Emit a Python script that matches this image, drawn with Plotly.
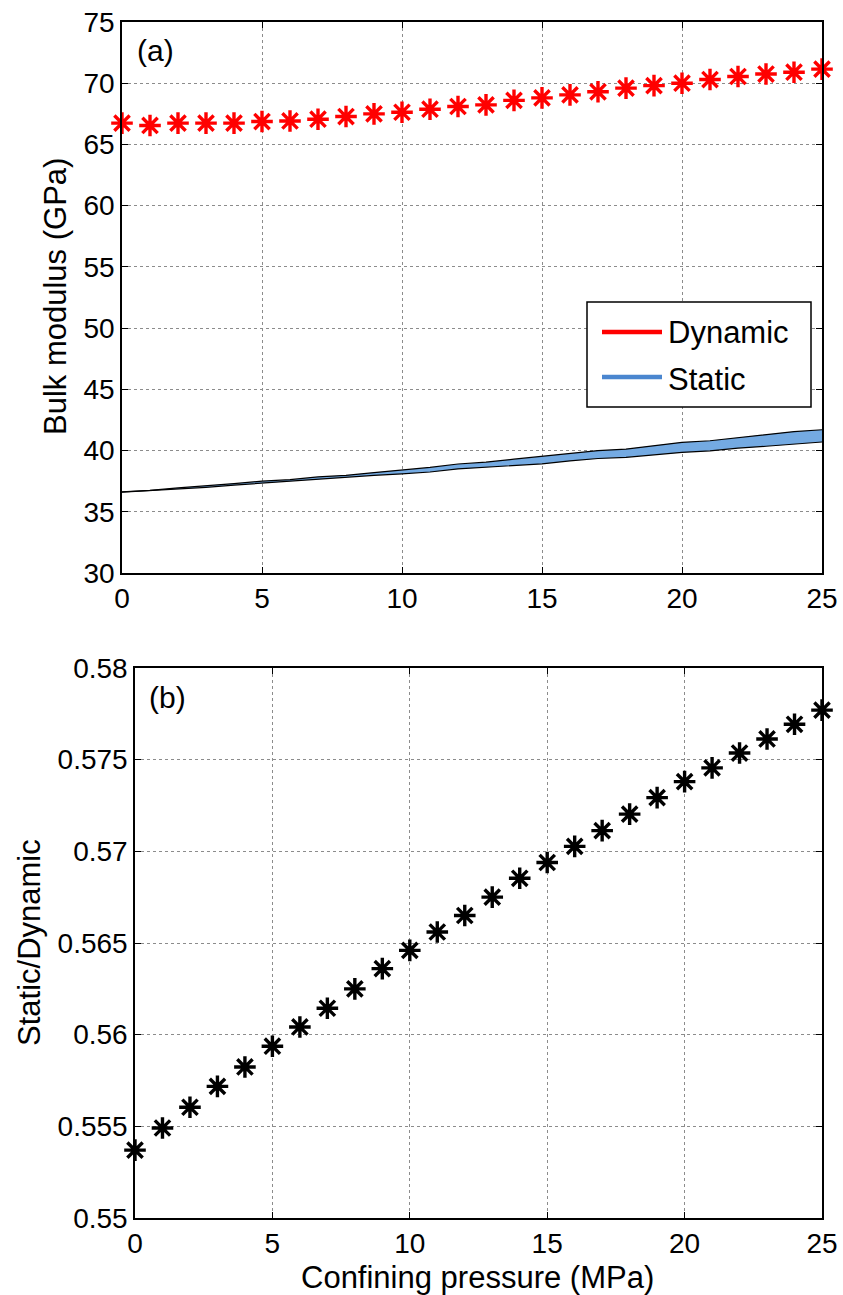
import plotly.graph_objects as go

# Confining pressure steps (MPa)
pressure = list(range(26))

# Dynamic bulk modulus (GPa)
dynamic_k = [66.74, 66.55, 66.74, 66.74, 66.74, 66.87, 66.92, 67.06, 67.28, 67.50,
             67.63, 67.88, 68.10, 68.23, 68.60, 68.80, 69.05, 69.30, 69.60, 69.80,
             70.00, 70.30, 70.55, 70.75, 70.90, 71.15]

# Static bulk modulus range (GPa): lower and upper bounds
static_low = [36.60, 36.72, 36.88, 37.00, 37.18, 37.35, 37.48, 37.70, 37.82, 37.98,
              38.10, 38.25, 38.50, 38.62, 38.78, 38.92, 39.15, 39.35, 39.45, 39.68,
              39.85, 39.98, 40.20, 40.35, 40.50, 40.70]
static_high = [36.62, 36.75, 36.95, 37.10, 37.30, 37.50, 37.62, 37.85, 37.98, 38.20,
               38.38, 38.62, 38.90, 39.05, 39.30, 39.52, 39.78, 40.00, 40.12, 40.40,
               40.67, 40.80, 41.05, 41.30, 41.55, 41.70]

# Static / dynamic ratio
ratio = [0.5537, 0.55491, 0.55604, 0.55718, 0.55824, 0.55937, 0.56042, 0.56144,
         0.5625, 0.5636, 0.5646, 0.5656, 0.5665, 0.5675, 0.56853, 0.56939,
         0.57027, 0.57113, 0.57203, 0.57293, 0.5738, 0.57455, 0.57536, 0.57613,
         0.57693, 0.5777]

x_ticks = [0, 5, 10, 15, 20, 25]
k_ticks = [30, 35, 40, 45, 50, 55, 60, 65, 70, 75]
r_ticks = [0.55, 0.555, 0.56, 0.565, 0.57, 0.575, 0.58]
r_tick_text = ["0.55", "0.555", "0.56", "0.565", "0.57", "0.575", "0.58"]

W, H = 843, 1295
FONT = "Arial, Liberation Sans, sans-serif"
FS_TICK = 28
FS_LABEL = 31


def px_x(p):
    return p / W


def px_y(p):
    return 1 - p / H


fig = go.Figure()

# Static band: lower edge, then upper edge filled down to it
fig.add_trace(go.Scatter(x=pressure, y=static_low, mode="lines",
                         line=dict(color="black", width=1.2),
                         xaxis="x", yaxis="y", showlegend=False, cliponaxis=False))
fig.add_trace(go.Scatter(x=pressure, y=static_high, mode="lines",
                         line=dict(color="black", width=1.2),
                         fill="tonexty", fillcolor="rgb(116,170,226)",
                         xaxis="x", yaxis="y", showlegend=False, cliponaxis=False))

fig.add_trace(go.Scatter(x=pressure, y=dynamic_k, mode="markers",
                         marker=dict(symbol="asterisk-open", size=18, color="red",
                                     line=dict(color="red", width=3.4)),
                         xaxis="x", yaxis="y", showlegend=False, cliponaxis=False))

fig.add_trace(go.Scatter(x=pressure, y=ratio, mode="markers",
                         marker=dict(symbol="asterisk-open", size=18, color="black",
                                     line=dict(color="black", width=3.4)),
                         xaxis="x2", yaxis="y2", showlegend=False, cliponaxis=False))

axis_common = dict(
    showline=True, linecolor="black", linewidth=1.5, mirror="ticks",
    ticks="inside", ticklen=6, tickcolor="black", tickwidth=1.2,
    showgrid=True, gridcolor="rgb(140,140,140)", griddash="dot", gridwidth=1,
    zeroline=False, tickfont=dict(family=FONT, size=FS_TICK, color="black"),
    automargin=False,
)

fig.update_layout(
    width=W, height=H,
    margin=dict(l=0, r=0, t=0, b=0),
    paper_bgcolor="white", plot_bgcolor="white",
    showlegend=False,
    xaxis=dict(domain=[px_x(122), px_x(822)], range=[0, 25], tickvals=x_ticks,
               anchor="y", **axis_common),
    yaxis=dict(domain=[px_y(573), px_y(22)], range=[30, 75], tickvals=k_ticks,
               anchor="x", **axis_common),
    xaxis2=dict(domain=[px_x(135), px_x(822)], range=[0, 25], tickvals=x_ticks,
                anchor="y2", **axis_common),
    yaxis2=dict(domain=[px_y(1218), px_y(668)], range=[0.55, 0.58],
                tickvals=r_ticks, ticktext=r_tick_text, anchor="x2", **axis_common),
)

# Legend box for the top panel
fig.add_shape(type="rect", xref="paper", yref="paper",
              x0=px_x(587), x1=px_x(811), y0=px_y(407), y1=px_y(302),
              line=dict(color="black", width=1.5), fillcolor="white", layer="above")
fig.add_shape(type="line", xref="paper", yref="paper",
              x0=px_x(602), x1=px_x(662), y0=px_y(332), y1=px_y(332),
              line=dict(color="red", width=4.5), layer="above")
fig.add_shape(type="line", xref="paper", yref="paper",
              x0=px_x(602), x1=px_x(662), y0=px_y(377), y1=px_y(377),
              line=dict(color="rgb(74,134,207)", width=4.5), layer="above")

annots = [
    dict(text="Dynamic", x=px_x(666), y=px_y(332), xanchor="left", yanchor="middle",
         size=FS_LABEL),
    dict(text="Static", x=px_x(666), y=px_y(379), xanchor="left", yanchor="middle",
         size=FS_LABEL),
    dict(text="(a)", x=px_x(155), y=px_y(50), xanchor="center", yanchor="middle",
         size=30),
    dict(text="(b)", x=px_x(167), y=px_y(697), xanchor="center", yanchor="middle",
         size=30),
    dict(text="Bulk modulus (GPa)", x=px_x(56), y=px_y(297), textangle=-90,
         xanchor="center", yanchor="middle", size=FS_LABEL),
    dict(text="Static/Dynamic", x=px_x(29), y=px_y(943), textangle=-90,
         xanchor="center", yanchor="middle", size=FS_LABEL),
    dict(text="Confining pressure (MPa)", x=px_x(478), y=px_y(1277),
         xanchor="center", yanchor="middle", size=FS_LABEL),
]
for a in annots:
    size = a.pop("size")
    fig.add_annotation(xref="paper", yref="paper", showarrow=False,
                       font=dict(family=FONT, size=size, color="black"), **a)

fig.write_html("out.html")
